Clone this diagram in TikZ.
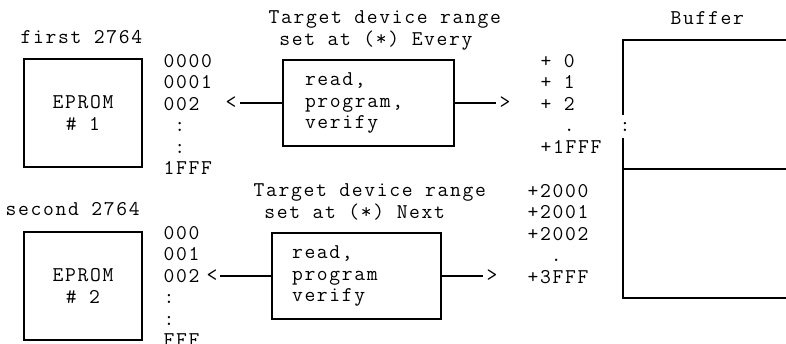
\documentclass[tikz,border=0pt]{standalone}
\usepackage{fontspec}
\setmainfont{Latin Modern Mono}[LetterSpace=8]
\begin{document}
\begin{tikzpicture}[x=1pt,y=-1pt,line width=1.1pt,
  every node/.style={inner sep=0pt,font=\fontsize{21}{21.5}\selectfont},
  chip/.style={draw,minimum width=118pt,minimum height=108pt,align=center},
  job/.style={draw,minimum height=86pt,align=left},
  col/.style={align=left,anchor=north west}]
\useasboundingbox (0,0) rectangle (786,344);

%first eprom
\node [anchor=west] (name1) at (20,37) {first 2764};
\node [chip] (chip1) at (83,113) {EPROM\\\# 1};
\node [col] (adr1) at (163,53.5) {0000\\0001\\002\\\phantom{0}:\\\phantom{0}:\\1FFF};
\node [col] (head1) at (268,10.5) {Target device range\\\phantom{T}set at (*) Every};
\node [job,inner xsep=22pt,text width=127pt] (job1) at (368.5,103) {read,\\program,\\verify};
\node (lt1) at (231,103) {<};
\node (gt1) at (505,103) {>};
\draw (job1.west) -- ([xshift=3pt]lt1.east);
\draw (job1.east) -- ([xshift=-3pt]gt1.west);
\node [col] (off1) at (540,53.5) {+ 0\\+ 1\\+ 2\\\phantom{+ }.\\+1FFF};

%second eprom
\node [anchor=west] (name2) at (5,209) {second 2764};
\node [chip] (chip2) at (83,286) {EPROM\\\# 2};
\node [col] (adr2) at (163,225.5) {000\\001\\002\\:\\:\\FFF};
\node [col] (head2) at (253,183.5) {Target device range\\\phantom{T}set at (*) Next};
\node [job,inner xsep=20pt,text width=129pt] (job2) at (356.5,276) {read,\\program\\verify};
\node (lt2) at (212,276) {<};
\node (gt2) at (492,276) {>};
\draw (job2.west) -- ([xshift=2pt]lt2.east);
\draw (job2.east) -- ([xshift=-3pt]gt2.west);
\node [col] (off2) at (527,183.5) {+2000\\+2001\\+2002\\\phantom{+2}.\\+3FFF};

%buffer
\node [anchor=west] (buf) at (670,18) {Buffer};
\coordinate (buftop) at (623,40);
\coordinate (bufmid) at (623,169);
\coordinate (bufbot) at (623,298);
\node (bufgap) at (625,127) {:};
\draw (786,40) -- (buftop) -- (623,115);
\draw (623,138) -- (bufbot) -- (786,298);
\draw (bufmid) -- (786,169);
\end{tikzpicture}
\end{document}
